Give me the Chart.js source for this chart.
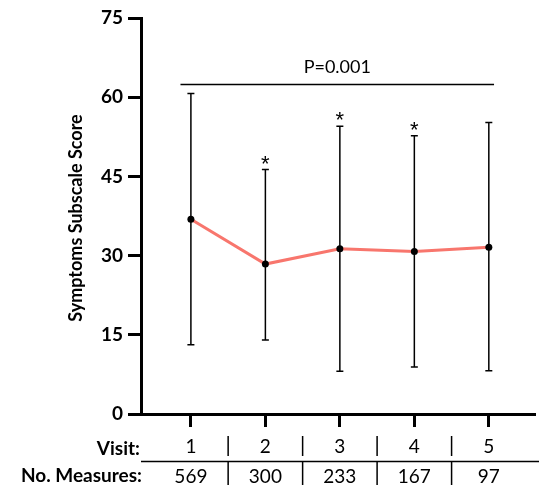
<!DOCTYPE html>
<html lang="en">
<head>
    <meta charset="UTF-8">
    <title>Symptoms Subscale Score by Visit</title>
    <script src="https://cdn.jsdelivr.net/npm/chart.js"></script>
    <style>
        html, body { margin: 0; padding: 0; background: #fff; }
        #wrap { width: 539px; height: 488px; }
    </style>
</head>
<body>
    <div id="wrap"><canvas id="chart" width="539" height="488"></canvas></div>

    <script>
        const visits = [1, 2, 3, 4, 5];
        const means = [36.9, 28.4, 31.3, 30.8, 31.6];
        const upper = [60.7, 46.3, 54.5, 52.7, 55.2];
        const lower = [13.1, 14.0, 8.1, 8.9, 8.2];
        const measures = [569, 300, 233, 167, 97];
        const starred = [false, true, true, true, false];
        const yTicks = [0, 15, 30, 45, 60, 75];
        const pText = 'P=0.001';
        const pBar = { from: 0.86, to: 5.07, y: 62.4 };

        const FONT = 'Lato, "Open Sans", sans-serif';

        // error bars, significance marks, axis title and the table under the axis
        const extras = {
            id: 'extras',
            beforeDatasetsDraw(chart) {
                const ctx = chart.ctx, x = chart.scales.x, y = chart.scales.y;
                ctx.save();
                ctx.strokeStyle = '#000';
                ctx.lineWidth = 1.5;
                visits.forEach((v, i) => {
                    const px = x.getPixelForValue(v);
                    const top = y.getPixelForValue(upper[i]);
                    const bot = y.getPixelForValue(lower[i]);
                    ctx.beginPath();
                    ctx.moveTo(px, top); ctx.lineTo(px, bot);
                    ctx.moveTo(px - 3.5, top); ctx.lineTo(px + 3.5, top);
                    ctx.moveTo(px - 3.5, bot); ctx.lineTo(px + 3.5, bot);
                    ctx.stroke();
                });
                ctx.restore();
            },
            afterDraw(chart) {
                const ctx = chart.ctx, x = chart.scales.x, y = chart.scales.y;
                const area = chart.chartArea;
                ctx.save();
                ctx.fillStyle = '#000';
                ctx.strokeStyle = '#000';

                // asterisks
                ctx.font = '22px "Liberation Sans", sans-serif';
                ctx.textAlign = 'center';
                ctx.textBaseline = 'alphabetic';
                visits.forEach((v, i) => {
                    if (!starred[i]) return;
                    ctx.fillText('*', x.getPixelForValue(v), y.getPixelForValue(upper[i]) + 1);
                });

                // p-value bar
                ctx.lineWidth = 1.5;
                const py = y.getPixelForValue(pBar.y);
                ctx.beginPath();
                ctx.moveTo(x.getPixelForValue(pBar.from), py);
                ctx.lineTo(x.getPixelForValue(pBar.to), py);
                ctx.stroke();
                ctx.font = '18px ' + FONT;
                ctx.textBaseline = 'middle';
                ctx.fillText(pText, x.getPixelForValue((pBar.from + pBar.to) / 2), py - 17);

                // y axis title
                ctx.save();
                ctx.translate(76, (area.top + area.bottom) / 2 + 2);
                ctx.rotate(-Math.PI / 2);
                ctx.font = 'bold 18px ' + FONT;
                ctx.fillText('Symptoms Subscale Score', 0, 0);
                ctx.restore();

                // table below the axis
                const row1 = 447, row2 = 476;
                ctx.font = 'bold 19px ' + FONT;
                ctx.textAlign = 'right';
                ctx.fillText('Visit:', 140, row1 + 2);
                ctx.fillText('No. Measures:', 142, row2);
                ctx.font = '19px ' + FONT;
                ctx.textAlign = 'center';
                visits.forEach((v, i) => {
                    const px = x.getPixelForValue(v);
                    ctx.fillText(String(v), px, row1);
                    ctx.fillText(String(measures[i]), px, row2 + 1);
                });
                ctx.lineWidth = 1.5;
                ctx.beginPath();
                ctx.moveTo(area.left, 461.5);
                ctx.lineTo(chart.width, 461.5);
                for (let i = 0; i < visits.length - 1; i++) {
                    const sx = x.getPixelForValue((visits[i] + visits[i + 1]) / 2);
                    ctx.moveTo(sx, 436); ctx.lineTo(sx, 456);
                    ctx.moveTo(sx, 462); ctx.lineTo(sx, 485);
                }
                ctx.stroke();
                ctx.restore();
            }
        };

        new Chart(document.getElementById('chart'), {
            type: 'line',
            data: {
                datasets: [{
                    data: visits.map((v, i) => ({ x: v, y: means[i] })),
                    borderColor: '#F8766D',
                    borderWidth: 3,
                    pointRadius: 3.5,
                    pointBackgroundColor: '#000',
                    pointBorderColor: '#000',
                    pointBorderWidth: 0,
                    tension: 0
                }]
            },
            options: {
                responsive: false,
                animation: false,
                layout: { padding: { top: 18, right: 0, left: 0, bottom: 0 } },
                plugins: { legend: { display: false }, tooltip: { enabled: false } },
                scales: {
                    x: {
                        type: 'linear',
                        min: 0.33,
                        max: 5.62,
                        afterBuildTicks: s => { s.ticks = visits.map(v => ({ value: v })); },
                        afterFit: s => { s.height = 74; },
                        ticks: { display: false },
                        grid: { drawOnChartArea: false, drawTicks: true, tickLength: 13, tickWidth: 3, tickColor: '#000' },
                        border: { width: 3, color: '#000' }
                    },
                    y: {
                        min: 0,
                        max: 75,
                        afterBuildTicks: s => { s.ticks = yTicks.map(v => ({ value: v })); },
                        afterFit: s => { s.width = 141; },
                        ticks: { color: '#000', padding: 5, font: { family: FONT, size: 19, weight: 'bold' } },
                        grid: { drawOnChartArea: false, drawTicks: true, tickLength: 13, tickWidth: 3, tickColor: '#000' },
                        border: { width: 3, color: '#000' }
                    }
                }
            },
            plugins: [extras]
        });
    </script>
</body>
</html>
